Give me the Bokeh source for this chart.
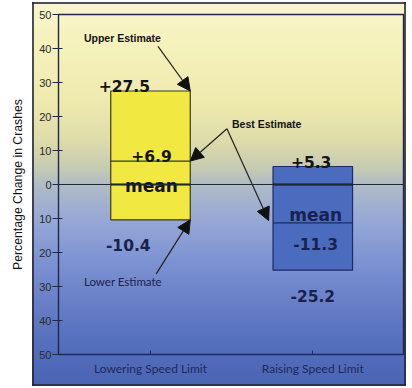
from bokeh.plotting import figure
from bokeh.models import Range1d, FixedTicker, Span, Arrow, NormalHead, ColumnDataSource
from bokeh.core.properties import value
from bokeh.embed import file_html
from bokeh.resources import INLINE

# ---- data ----
categories = ["Lowering Speed Limit", "Raising Speed Limit"]
cat_pos = [1, 2]
upper = [27.5, 5.3]
best = [6.9, -11.3]
lower = [-10.4, -25.2]
y_ticks = [-50, -40, -30, -20, -10, 0, 10, 20, 30, 40, 50]
y_tick_labels = ["50", "40", "30", "20", "10", "0", "10", "20", "30", "40", "50"]

# ---- styles / layout ----
bar_w = 0.49
bar_fill = ["#f1e842", "#4b6bbf"]
bar_line = ["#3a3a22", "#1d2b66"]
dark = "#141414"
navy = "#19224c"

p = figure(width=398, height=384, output_backend="svg", toolbar_location=None,
           x_range=Range1d(0.433, 2.559), y_range=Range1d(-50, 50),
           min_border_left=46, min_border_right=3, min_border_top=12, min_border_bottom=32)
p.border_fill_color = None
p.background_fill_color = None
p.outline_line_color = "#22284a"
p.outline_line_width = 1.4
p.grid.visible = False

grad = ("linear-gradient(to bottom, #f9f6cf 0px, #f6f2bd 38px, #efeaae 98px, #dedcaa 138px, "
        "#c4c9b3 168px, #b0bcc6 182px, #97a8d6 218px, #7d93d2 258px, #6a80c8 298px, "
        "#5570bd 338px, #4a64b4 384px)")
ln = "linear-gradient(rgba(35,36,52,0.8), rgba(35,36,52,0.8))"
p.styles = {
    "position": "relative",
    "left": "8px",
    "top": "2px",
    "background-image": ", ".join([ln] * 4 + [grad]),
    "background-size": "2px 384px, 2px 384px, 374px 2px, 374px 2px, 374px 384px",
    "background-position": "24px 0px, 396px 0px, 24px 0px, 24px 382px, 24px 0px",
    "background-repeat": "no-repeat",
}

# axes
p.yaxis.ticker = FixedTicker(ticks=y_ticks)
p.yaxis.major_label_overrides = {t: l for t, l in zip(y_ticks, y_tick_labels)}
p.yaxis.major_tick_in = 4
p.yaxis.major_tick_out = 6
p.yaxis.minor_tick_line_color = None
p.yaxis.major_label_standoff = 1
p.yaxis.major_label_text_font = "Liberation Sans"
p.yaxis.major_label_text_font_size = "11px"
p.yaxis.major_label_text_color = "#2a2a2a"
p.yaxis.axis_line_color = "#22284a"
p.yaxis.major_tick_line_color = "#22284a"
p.yaxis.axis_label = "Percentage Change in Crashes"
p.yaxis.axis_label_standoff = 11
p.yaxis.axis_label_text_font = "Liberation Sans"
p.yaxis.axis_label_text_font_size = "12.25px"
p.yaxis.axis_label_text_font_style = "normal"
p.yaxis.axis_label_text_color = "#111111"

p.xaxis.ticker = FixedTicker(ticks=cat_pos)
p.xaxis.major_label_overrides = {c: n for c, n in zip(cat_pos, categories)}
p.xaxis.major_tick_in = 4
p.xaxis.major_tick_out = 0
p.xaxis.minor_tick_line_color = None
p.xaxis.major_label_standoff = 6
p.xaxis.major_label_text_font = "Lato"
p.xaxis.major_label_text_font_size = "12px"
p.xaxis.major_label_text_color = "#1e2858"
p.xaxis.axis_line_color = "#1d2b66"
p.xaxis.major_tick_line_color = "#1d2b66"

# bars
lefts = [c - bar_w / 2 for c in cat_pos]
rights = [c + bar_w / 2 for c in cat_pos]
src = ColumnDataSource(dict(left=lefts, right=rights, top=upper, bottom=lower,
                            best=best, zero=[0, 0], fill=bar_fill, line=bar_line))
p.quad(left="left", right="right", top="top", bottom="bottom", source=src,
       fill_color="fill", line_color="line", line_width=1.2)
p.segment(x0="left", x1="right", y0="best", y1="best", source=src,
          line_color="line", line_width=1.3)

p.add_layout(Span(location=0, dimension="width", line_color="#1c2a30", line_width=1))
p.segment(x0="left", x1="right", y0="zero", y1="zero", source=src,
          line_color="#101520", line_width=2.2)

# value labels
def fmt(v):
    return f"{v:+.1f}" if v > 0 else f"{v:.1f}"

lab_x = [0.839, 1.99, 1.006, 2.018, 1.005, 2.018, 0.863, 2.0]
lab_y = [28.9, 6.5, 8.3, -17.4, -0.5, -9.1, -17.9, -32.9]
lab_t = [fmt(upper[0]), fmt(upper[1]), fmt(best[0]), fmt(best[1]), "mean", "mean",
         fmt(lower[0]), fmt(lower[1])]
lab_c = [dark, dark, dark, navy, dark, navy, navy, navy]
lab_s = ["15.5px", "15.5px", "15.5px", "15.5px", "17px", "17px", "15.5px", "15.5px"]
p.text(x=lab_x, y=lab_y, text=lab_t, text_color=lab_c, text_font=value("DejaVu Sans"),
       text_font_style="bold", text_font_size=lab_s, text_align="center",
       text_baseline="alphabetic")

# annotations
p.text(x=[0.827, 1.716], y=[43.1, 17.85], text=["Upper Estimate", "Best Estimate"],
       text_color=dark, text_font=value("Liberation Sans"), text_font_style="bold",
       text_font_size="10.5px", text_align="center", text_baseline="middle")
p.text(x=[0.830], y=[-28.4], text=["Lower Estimate"], text_color=navy,
       text_font=value("Lato"), text_font_size="11.5px", text_align="center",
       text_baseline="middle")

arrows = [
    (1.046, 40.6, rights[0], upper[0]),
    (1.471, 16.4, rights[0], best[0]),
    (1.471, 16.4, lefts[1] - 0.027, best[1] + 0.7),
    (1.035, -26.3, rights[0], lower[0]),
]
for xs, ys, xe, ye in arrows:
    p.add_layout(Arrow(end=NormalHead(size=13, fill_color="#111111", line_color="#111111"),
                       x_start=xs, y_start=ys, x_end=xe, y_end=ye,
                       line_color="#222222", line_width=1.2))

open("out.html", "w").write(file_html(p, INLINE))
